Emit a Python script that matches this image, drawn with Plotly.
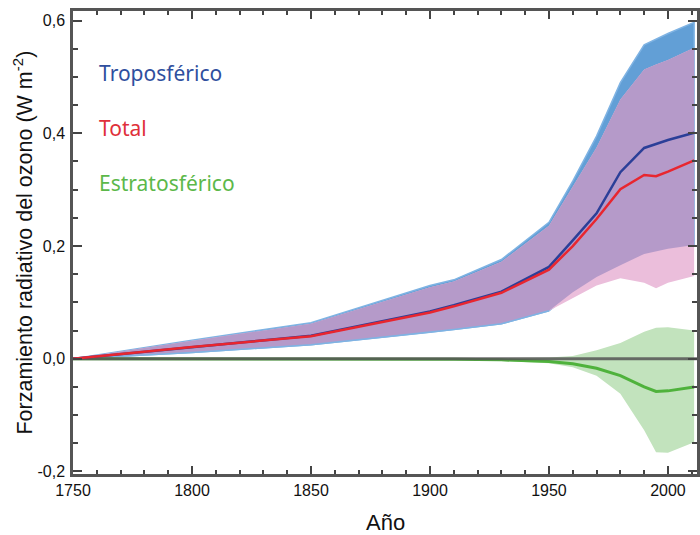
import plotly.graph_objects as go

years = [1750, 1800, 1850, 1900, 1910, 1930, 1950, 1960, 1970, 1980, 1990, 1995, 2000, 2011]

trop_mid = [0, 0.021, 0.041, 0.084, 0.095, 0.119, 0.163, 0.21, 0.258, 0.331, 0.374, 0.381, 0.388, 0.401]
trop_hi = [0, 0.033, 0.064, 0.13, 0.14, 0.176, 0.242, 0.315, 0.395, 0.49, 0.557, 0.567, 0.577, 0.597]
trop_lo = [0, 0.011, 0.025, 0.047, 0.052, 0.062, 0.085, 0.118, 0.145, 0.166, 0.186, 0.191, 0.195, 0.202]

total_mid = [0, 0.021, 0.04, 0.082, 0.093, 0.117, 0.158, 0.2, 0.248, 0.301, 0.326, 0.324, 0.332, 0.352]
total_hi = [0, 0.032, 0.062, 0.127, 0.137, 0.172, 0.236, 0.305, 0.375, 0.46, 0.513, 0.522, 0.53, 0.552]
total_lo = [0, 0.011, 0.025, 0.047, 0.052, 0.062, 0.085, 0.108, 0.13, 0.143, 0.135, 0.125, 0.135, 0.147]

strat_mid = [0, 0, 0, 0, -0.001, -0.002, -0.005, -0.009, -0.017, -0.03, -0.05, -0.058, -0.057, -0.05]
strat_hi = [0, 0, 0, 0, 0, 0.001, 0.002, 0.005, 0.015, 0.028, 0.048, 0.055, 0.056, 0.05]
strat_lo = [0, 0, 0, 0, -0.002, -0.004, -0.008, -0.015, -0.03, -0.062, -0.127, -0.166, -0.167, -0.148]

y_tickvals = [-0.2, 0.0, 0.2, 0.4, 0.6]
y_ticktext = ["-0,2", "0,0", "0,2", "0,4", "0,6"]
x_tickvals = [1750, 1800, 1850, 1900, 1950, 2000]
x_ticktext = ["1750", "1800", "1850", "1900", "1950", "2000"]

labels = ["Troposférico", "Total", "Estratosférico"]
label_colors = ["#2f4f9e", "#e0303a", "#5cb84a"]

BLUE_BAND = "#629fd6"
PINK_BAND = "#ebbedb"
PURPLE_BAND = "#b59ac9"
GREEN_BAND = "#c2e3bd"


def band(x, lo, hi, color, line=None):
    return go.Scatter(
        x=list(x) + list(x)[::-1],
        y=list(hi) + list(lo)[::-1],
        fill="toself",
        fillcolor=color,
        mode="lines",
        line=line or dict(width=0, color=color),
        hoverinfo="skip",
        showlegend=False,
    )


fig = go.Figure()
# tropospheric band (blue)
fig.add_trace(band(years, trop_lo, trop_hi, BLUE_BAND, dict(width=1.5, color="#7fb3e3")))
# total band (pink)
fig.add_trace(band(years, total_lo, total_hi, PINK_BAND))
# overlap (purple)
ov_lo = [max(a, b) for a, b in zip(trop_lo, total_lo)]
ov_hi = [min(a, b) for a, b in zip(trop_hi, total_hi)]
fig.add_trace(band(years, ov_lo, ov_hi, PURPLE_BAND))
# thin blue edge on lower trop bound before 1950
n50 = years.index(1950) + 1
fig.add_trace(go.Scatter(x=years[:n50], y=trop_lo[:n50], mode="lines",
                         line=dict(color="#7fb3e3", width=1.5), showlegend=False, hoverinfo="skip"))
# stratospheric band
fig.add_trace(band(years, strat_lo, strat_hi, GREEN_BAND))
# stratospheric line
fig.add_trace(go.Scatter(x=years, y=strat_mid, mode="lines",
                         line=dict(color="#4fb23c", width=3), showlegend=False))
# zero line
fig.add_trace(go.Scatter(x=[1750, 2012.2], y=[0, 0], mode="lines",
                         line=dict(color="rgba(85,85,85,0.85)", width=3), showlegend=False, hoverinfo="skip"))
# tropospheric line
fig.add_trace(go.Scatter(x=years, y=trop_mid, mode="lines",
                         line=dict(color="#2b3f98", width=2.5), showlegend=False))
# total line
fig.add_trace(go.Scatter(x=years, y=total_mid, mode="lines",
                         line=dict(color="#e8262f", width=2.5), showlegend=False))

ann_y = [0.507, 0.409, 0.312]
for t, c, yy in zip(labels, label_colors, ann_y):
    fig.add_annotation(x=1760, y=yy, xref="x", yref="y", text=t, showarrow=False,
                       xanchor="left", yanchor="middle",
                       font=dict(family="Noto Sans, sans-serif", size=21, color=c))

fig.add_annotation(x=-0.0817, y=0.5, xref="paper", yref="paper",
                   text="Forzamiento radiativo del ozono (W m<sup>-2</sup>)",
                   textangle=-90, showarrow=False, xanchor="center", yanchor="middle",
                   font=dict(family="Liberation Sans, Arial, sans-serif", size=21.5, color="#111"))
fig.add_annotation(x=0.5, y=-0.104, xref="paper", yref="paper", text="Año",
                   showarrow=False, xanchor="center", yanchor="middle",
                   font=dict(family="Liberation Sans, Arial, sans-serif", size=22, color="#111"))

fig.update_layout(
    width=700, height=535,
    margin=dict(l=73, r=3, t=11, b=61, autoexpand=False),
    plot_bgcolor="white", paper_bgcolor="white",
    font=dict(family="Liberation Sans, Arial, sans-serif", size=16, color="#222"),
    showlegend=False,
)

fig.update_xaxes(
    range=[1750, 2012.2], tickvals=x_tickvals, ticktext=x_ticktext,
    ticks="inside", ticklen=8, tickwidth=2, tickcolor="#444",
    minor=dict(dtick=10, tick0=1750, ticks="inside", ticklen=4, tickwidth=2, tickcolor="#444"),
    showline=True, linecolor="#555", linewidth=2.5, mirror="allticks",
    showgrid=False, zeroline=False, tickfont=dict(size=16, color="#111"),
    automargin=False,
)
fig.update_yaxes(
    range=[-0.2045, 0.617], tickvals=y_tickvals, ticktext=y_ticktext,
    ticks="inside", ticklen=9, tickwidth=2, tickcolor="#444",
    minor=dict(dtick=0.05, tick0=0, ticks="inside", ticklen=5, tickwidth=2, tickcolor="#444"),
    showline=True, linecolor="#555", linewidth=2.5, mirror="allticks",
    showgrid=False, zeroline=False, tickfont=dict(size=16, color="#111"),
    automargin=False, ticklabelstandoff=2,
)

fig.write_html("out.html", config={"displayModeBar": False},
               post_script="document.body.style.margin='0';document.body.style.overflow='hidden';")
